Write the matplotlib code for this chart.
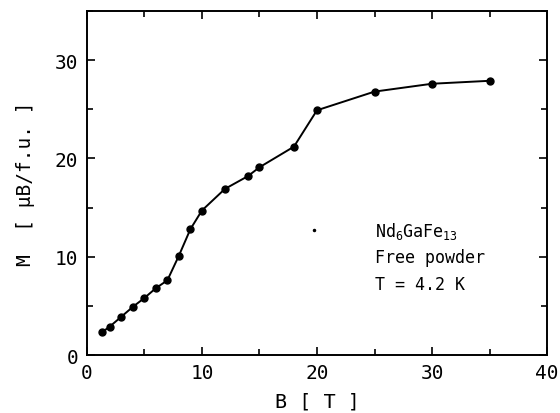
import matplotlib
matplotlib.use("Agg")
import matplotlib.pyplot as plt
from matplotlib.ticker import MultipleLocator

B = [1.3, 2.0, 3.0, 4.0, 5.0, 6.0, 7.0, 8.0, 9.0, 10.0, 12.0, 14.0, 15.0, 18.0, 20.0, 25.0, 30.0, 35.0]
M = [2.3, 2.9, 3.9, 4.9, 5.8, 6.8, 7.6, 10.1, 12.8, 14.7, 16.9, 18.2, 19.1, 21.2, 24.9, 26.8, 27.6, 27.9]

xticks = [0, 10, 20, 30, 40]
yticks = [0, 10, 20, 30]
labels = ["Nd$_6$GaFe$_{13}$", "Free powder", "T = 4.2 K"]

plt.rcParams['font.family'] = ['DejaVu Sans Mono', 'DejaVu Sans']
plt.rcParams['mathtext.fontset'] = 'custom'
plt.rcParams['mathtext.rm'] = 'DejaVu Sans Mono'
plt.rcParams['mathtext.it'] = 'DejaVu Sans Mono'

fig = plt.figure(figsize=(5.6, 4.14), dpi=100)
ax = fig.add_axes([0.155, 0.140, 0.822, 0.831])

ax.plot(B, M, color='black', lw=1.4, marker='o', ms=5)
ax.plot([19.7], [12.7], 'o', color='black', ms=1.5)

ax.set_xlim(0, 40)
ax.set_ylim(0, 35)
ax.set_xticks(xticks)
ax.set_yticks(yticks)
ax.xaxis.set_minor_locator(MultipleLocator(5))
ax.yaxis.set_minor_locator(MultipleLocator(5))
ax.tick_params(which='both', direction='in', top=True, right=True, labelsize=14, width=1.2)
ax.tick_params(which='major', length=6, pad=6)
ax.tick_params(which='minor', length=4.5)
for s in ax.spines.values():
    s.set_linewidth(1.4)

ax.set_xlabel("B [ T ]", fontsize=14.5)
ax.set_ylabel("M  [ \u03bcB/f.u. ]", fontsize=14)
ax.yaxis.set_label_coords(-0.112, 0.5)
ax.xaxis.set_label_coords(0.5, -0.105)

for txt, y in zip(labels, [12.7, 10.0, 7.2]):
    ax.text(25.0, y, txt, fontsize=12, va='center', ha='left')

fig.savefig("out.png", dpi=100)
